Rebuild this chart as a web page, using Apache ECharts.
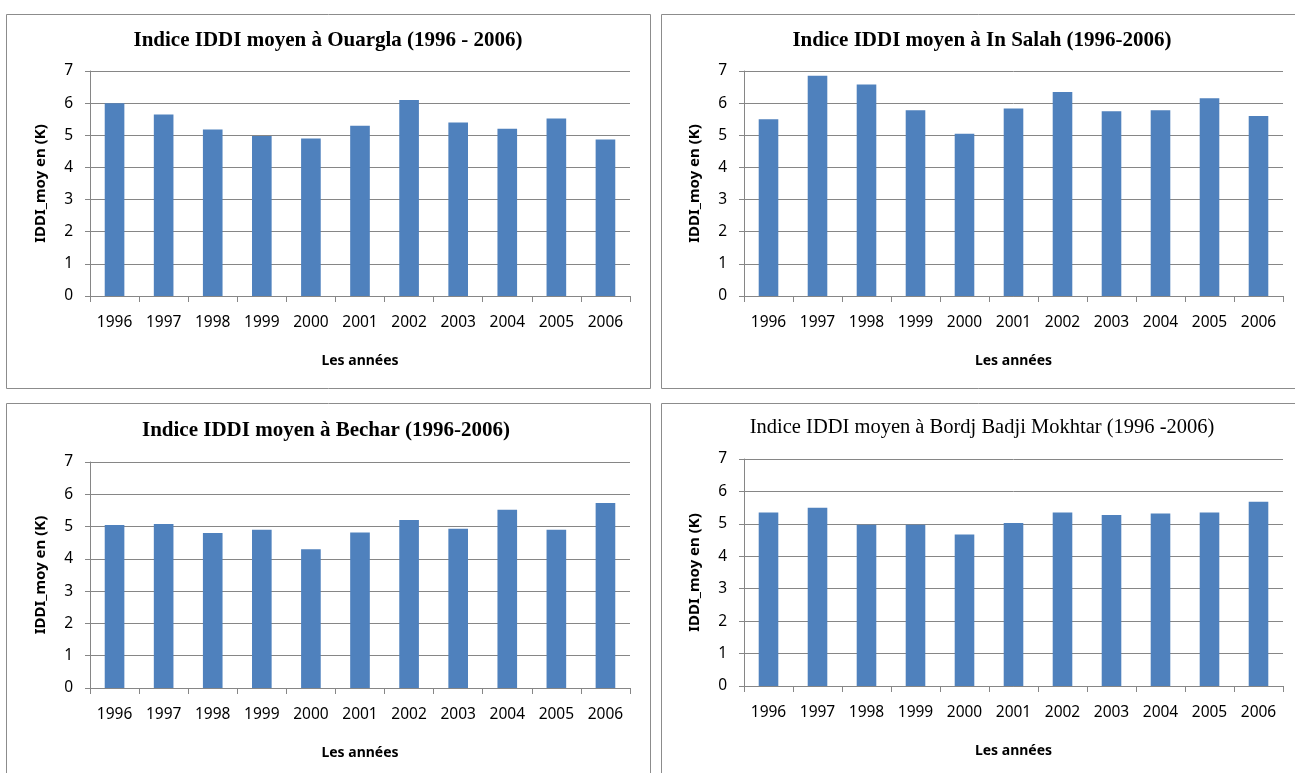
<!DOCTYPE html>
<html><head><meta charset="utf-8">
<script src="https://cdn.jsdelivr.net/npm/echarts@6/dist/echarts.min.js"></script>
<style>html,body{margin:0;padding:0;background:#fff}#c{width:1295px;height:773px}</style>
</head><body><div id="c"></div>
<script>
const years = ['1996','1997','1998','1999','2000','2001','2002','2003','2004','2005','2006'];
const ouargla = [6.0, 5.65, 5.18, 4.98, 4.9, 5.3, 6.1, 5.4, 5.2, 5.52, 4.87];
const inSalah = [5.5, 6.85, 6.58, 5.78, 5.05, 5.83, 6.35, 5.75, 5.78, 6.15, 5.6];
const bechar = [5.05, 5.08, 4.8, 4.9, 4.3, 4.82, 5.2, 4.93, 5.52, 4.9, 5.73];
const bordj = [5.35, 5.5, 4.97, 4.97, 4.67, 5.03, 5.35, 5.27, 5.32, 5.35, 5.68];
const titles = ['Indice IDDI moyen à Ouargla (1996 - 2006)','Indice IDDI moyen à In Salah (1996-2006)','Indice IDDI moyen à Bechar (1996-2006)','Indice IDDI moyen à Bordj Badji Mokhtar (1996 -2006)'];
const yName = 'IDDI_moy en (K)';
const xName = 'Les années';

const seriesData = [ouargla, inSalah, bechar, bordj];
const grids = [
  {left:90, top:71, width:540, height:225},
  {left:744, top:71, width:539, height:225},
  {left:90, top:462, width:540, height:226},
  {left:744, top:459, width:539, height:227}
];
const titlePos = [{x:328,y:30,bold:true,size:21},{x:982,y:30,bold:true,size:21},{x:326,y:420,bold:true,size:21},{x:982,y:417,bold:false,size:20.5}];
const boxes = [{x:6.5,y:14.5,w:644,h:374},{x:661.5,y:14.5,w:640,h:374},{x:6.5,y:403.5,w:644,h:380},{x:661.5,y:403.5,w:640,h:380}];
const gray = '#868686';
const sans = '"Noto Sans", "Open Sans", sans-serif';

const option = {
  backgroundColor:'#fff',
  animation:false,
  graphic: boxes.map(b=>({type:'rect',shape:{x:b.x,y:b.y,width:b.w,height:b.h},style:{fill:'none',stroke:'#8c8c8c',lineWidth:1},z:-1}))
    .concat(titlePos.map((t,i)=>({type:'text',x:t.x,y:t.y,style:{text:titles[i],textAlign:'center',fill:'#000',font:(t.bold?'bold ':'')+t.size+'px "Liberation Serif", "Times New Roman", serif'}}))),
  grid: grids,
  xAxis: grids.map((g,i)=>({
    type:'category', gridIndex:i, data:years,
    name:xName, nameLocation:'middle', nameGap:58,
    nameTextStyle:{fontFamily:sans,fontWeight:'bold',fontSize:14,color:'#000'},
    axisLine:{lineStyle:{color:gray}},
    axisTick:{show:true,length:6,lineStyle:{color:gray},alignWithLabel:false},
    axisLabel:{color:'#000',fontFamily:sans,fontSize:15.5,margin:19}
  })),
  yAxis: grids.map((g,i)=>({
    type:'value', gridIndex:i, min:0, max:7, interval:1,
    name:yName, nameLocation:'middle', nameGap:42, nameRotate:90,
    nameTextStyle:{fontFamily:sans,fontWeight:'bold',fontSize:15,color:'#000'},
    axisLine:{show:true,lineStyle:{color:gray}},
    axisTick:{show:true,length:5,lineStyle:{color:gray}},
    axisLabel:{color:'#000',fontFamily:sans,fontSize:15.5,margin:17},
    splitLine:{show:true,lineStyle:{color:gray,width:1}}
  })),
  series: seriesData.map((d,i)=>({
    type:'bar', xAxisIndex:i, yAxisIndex:i, data:d, barCategoryGap:'60%',
    itemStyle:{color:'#4F81BD'}
  }))
};
echarts.init(document.getElementById('c'),null,{renderer:'canvas'}).setOption(option);
</script></body></html>
